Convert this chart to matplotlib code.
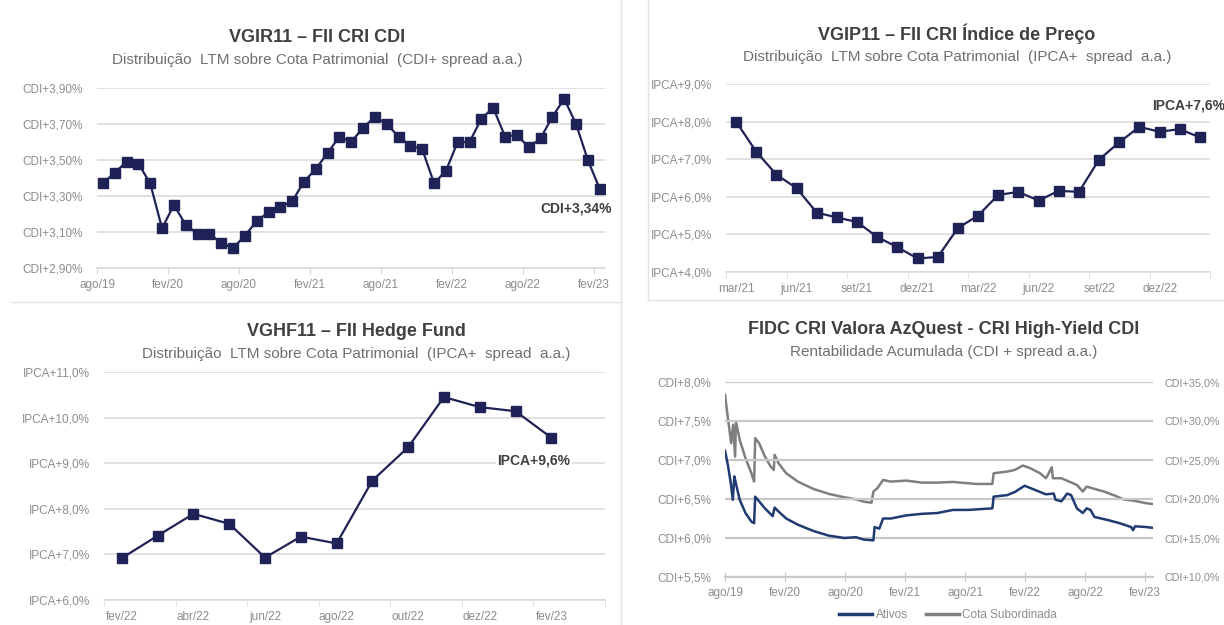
import matplotlib
matplotlib.use("Agg")
import matplotlib.pyplot as plt
from matplotlib.lines import Line2D

plt.rcParams['font.family'] = ['Liberation Sans', 'DejaVu Sans']

# ---- data ----
vgir_labels = ["ago/19", "fev/20", "ago/20", "fev/21", "ago/21", "fev/22", "ago/22", "fev/23"]
vgir_vals = [3.37, 3.43, 3.49, 3.48, 3.37, 3.12, 3.25, 3.14, 3.09, 3.09, 3.04, 3.01,
             3.08, 3.16, 3.21, 3.24, 3.27, 3.38, 3.45, 3.54, 3.63, 3.60, 3.68, 3.74,
             3.70, 3.63, 3.58, 3.56, 3.37, 3.44, 3.60, 3.60, 3.73, 3.79, 3.63, 3.64,
             3.57, 3.62, 3.74, 3.84, 3.70, 3.50, 3.34]
vgir_yticks = [2.9, 3.1, 3.3, 3.5, 3.7, 3.9]
vgir_ylabels = ["CDI+2,90%", "CDI+3,10%", "CDI+3,30%", "CDI+3,50%", "CDI+3,70%", "CDI+3,90%"]

vgip_labels = ["mar/21", "jun/21", "set/21", "dez/21", "mar/22", "jun/22", "set/22", "dez/22"]
vgip_vals = [8.00, 7.20, 6.59, 6.23, 5.58, 5.45, 5.33, 4.93, 4.66, 4.36, 4.40, 5.17,
             5.50, 6.05, 6.13, 5.90, 6.16, 6.13, 6.99, 7.45, 7.86, 7.73, 7.80, 7.58]
vgip_yticks = [4, 5, 6, 7, 8, 9]
vgip_ylabels = ["IPCA+4,0%", "IPCA+5,0%", "IPCA+6,0%", "IPCA+7,0%", "IPCA+8,0%", "IPCA+9,0%"]

vghf_labels = ["fev/22", "abr/22", "jun/22", "ago/22", "out/22", "dez/22", "fev/23"]
vghf_vals = [6.92, 7.41, 7.89, 7.67, 6.93, 7.39, 7.24, 8.62, 9.35, 10.45, 10.23, 10.14, 9.56]
vghf_yticks = [6, 7, 8, 9, 10, 11]
vghf_ylabels = ["IPCA+6,0%", "IPCA+7,0%", "IPCA+8,0%", "IPCA+9,0%", "IPCA+10,0%", "IPCA+11,0%"]

# FIDC: months since ago/19
fidc_labels = ["ago/19", "fev/20", "ago/20", "fev/21", "ago/21", "fev/22", "ago/22", "fev/23"]
ativos_m = [0.00, 0.31, 0.58, 0.78, 0.93, 1.09, 1.47, 2.05, 2.64, 2.91, 3.02, 3.41, 3.99,
            4.77, 4.96, 5.35, 6.12, 7.29, 8.84, 10.39, 11.94, 13.10, 13.88, 14.84, 14.96,
            15.43, 15.81, 16.59, 18.14, 19.69, 21.24, 22.79, 24.34, 26.74, 26.86, 28.22,
            28.99, 29.96, 30.93, 32.09, 32.87, 33.06, 33.64, 34.22, 34.61, 35.19, 35.78,
            36.16, 36.55, 36.94, 38.29, 39.46, 40.62, 40.81, 41.01, 42.17, 42.75]
ativos_v = [7.12, 6.92, 6.70, 6.49, 6.79, 6.70, 6.49, 6.32, 6.21, 6.19, 6.53, 6.47, 6.38,
            6.28, 6.39, 6.34, 6.25, 6.17, 6.09, 6.03, 6.00, 6.01, 5.98, 5.97, 6.14,
            6.12, 6.25, 6.25, 6.29, 6.31, 6.32, 6.36, 6.36, 6.38, 6.53, 6.55,
            6.59, 6.67, 6.62, 6.56, 6.57, 6.49, 6.47, 6.57, 6.55, 6.38, 6.32,
            6.38, 6.36, 6.27, 6.23, 6.19, 6.14, 6.10, 6.15, 6.14, 6.13]
cota_m = [0.00, 0.31, 0.62, 0.81, 1.01, 1.09, 1.47, 2.05, 2.64, 2.91, 3.02, 3.41, 3.99,
          4.57, 4.88, 4.96, 5.35, 6.12, 7.29, 8.84, 10.39, 11.94, 13.10, 13.88, 14.65,
          14.84, 15.23, 15.81, 16.59, 18.14, 19.69, 21.24, 22.79, 25.12, 26.74, 26.86,
          28.22, 28.99, 29.77, 30.54, 31.51, 32.09, 32.29, 32.67, 32.79, 33.64, 34.42,
          35.19, 35.78, 36.16, 36.74, 37.91, 39.07, 39.84, 41.01, 42.17, 42.75]
cota_v = [33.37, 30.16, 27.16, 29.52, 25.44, 29.94, 27.59, 25.23, 23.30, 22.23, 27.80, 27.16, 25.44,
          24.16, 23.73, 25.66, 24.59, 23.30, 22.23, 21.29, 20.65, 20.22, 19.96, 19.66, 19.53,
          20.95, 21.37, 22.44, 22.23, 22.36, 22.10, 22.10, 22.19, 21.93, 21.93, 23.30,
          23.52, 23.73, 24.29, 23.94, 23.30, 22.66, 23.09, 24.07, 22.66, 22.66, 22.23,
          21.80, 20.95, 21.59, 21.37, 20.95, 20.39, 19.96, 19.75, 19.45, 19.36]
fidc_yticks = [5.5, 6.0, 6.5, 7.0, 7.5, 8.0]
fidc_ylabels = ["CDI+5,5%", "CDI+6,0%", "CDI+6,5%", "CDI+7,0%", "CDI+7,5%", "CDI+8,0%"]
fidc_rticks = [10, 15, 20, 25, 30, 35]
fidc_rlabels = ["CDI+10,0%", "CDI+15,0%", "CDI+20,0%", "CDI+25,0%", "CDI+30,0%", "CDI+35,0%"]

navy = "#1f2256"
navy2 = "#203a72"
gray_line = "#7f7f7f"
grid_c = "#d9d9d9"
tick_c = "#8c8c8c"
title_c = "#404040"
sub_c = "#6f6f6f"

W, H = 1224, 625
fig = plt.figure(figsize=(W / 100, H / 100), dpi=100)


def rect(x0, y0, x1, y1):
    return [x0 / W, 1 - y1 / H, (x1 - x0) / W, (y1 - y0) / H]


def ftext(x, y, s, **kw):
    fig.text(x / W, 1 - y / H, s, ha="center", va="center", **kw)


def base(ax, ylim, yticks, ylabels):
    ax.set_ylim(*ylim)
    ax.set_yticks(yticks)
    ax.set_yticklabels(ylabels, color=tick_c, fontsize=8.5)
    ax.grid(axis="y", color=grid_c, lw=1.1)
    ax.set_axisbelow(True)
    for s in ["top", "right", "left"]:
        ax.spines[s].set_visible(False)
    ax.spines["bottom"].set_color(grid_c)
    ax.spines["bottom"].set_linewidth(1.1)
    ax.tick_params(axis="y", length=0, pad=10)
    ax.tick_params(axis="x", which="both", colors=grid_c, labelcolor=tick_c, labelsize=8.5)


# panel borders
for x0, y0, x1, y1 in [(621, 0, 621, 625), (12, 302, 621, 302), (648, 0, 648, 300), (648, 300, 1224, 300)]:
    fig.add_artist(Line2D([x0 / W, x1 / W], [1 - y0 / H, 1 - y1 / H], color="#e3e3e3", lw=1))

# ---- VGIR11 ----
ax1 = fig.add_axes(rect(97, 88, 605, 268))
base(ax1, (2.9, 3.9), vgir_yticks, vgir_ylabels)
ax1.plot(range(len(vgir_vals)), vgir_vals, color=navy, lw=1.6, marker="s", ms=6.8)
ax1.set_xlim(-0.5, 42.45)
ax1.set_xticks([i * 6 - 0.5 for i in range(len(vgir_labels))])
ax1.set_xticklabels(vgir_labels)
ax1.tick_params(axis="x", length=4, pad=4)
ax1.text(43.0, 3.23, "CDI+3,34%", ha="right", va="center", fontsize=10, fontweight="bold", color=title_c)
ftext(317, 37, "VGIR11 – FII CRI CDI", fontsize=13, fontweight="bold", color=title_c)
ftext(317, 60, "Distribuição  LTM sobre Cota Patrimonial  (CDI+ spread a.a.)", fontsize=11, color=sub_c)

# ---- VGIP11 ----
ax2 = fig.add_axes(rect(726, 84, 1210, 272))
base(ax2, (4, 9), vgip_yticks, vgip_ylabels)
ax2.plot(range(len(vgip_vals)), vgip_vals, color=navy, lw=1.6, marker="s", ms=6.8)
ax2.set_xlim(-0.5, 23.5)
ax2.set_xticks([i * 3 for i in range(len(vgip_labels))])
ax2.set_xticklabels(vgip_labels)
ax2.set_xticks([i * 3 - 0.5 for i in range(len(vgip_labels) + 1)], minor=True)
ax2.tick_params(axis="x", which="major", length=0, pad=8)
ax2.tick_params(axis="x", which="minor", length=4)
ax2.text(24.24, 8.42, "IPCA+7,6%", ha="right", va="center", fontsize=10, fontweight="bold", color=title_c)
ftext(957, 34, "VGIP11 – FII CRI Índice de Preço", fontsize=13, fontweight="bold", color=title_c)
ftext(957, 57, "Distribuição  LTM sobre Cota Patrimonial  (IPCA+  spread  a.a.)", fontsize=11, color=sub_c)

# ---- VGHF11 ----
ax3 = fig.add_axes(rect(104, 372, 605, 600))
base(ax3, (6, 11), vghf_yticks, vghf_ylabels)
ax3.plot(range(len(vghf_vals)), vghf_vals, color=navy, lw=1.6, marker="s", ms=6.8)
ax3.set_xlim(-0.5, 12.5)
ax3.set_xticks([i * 2 for i in range(len(vghf_labels))])
ax3.set_xticklabels(vghf_labels)
ax3.set_xticks([i * 2 - 0.5 for i in range(len(vghf_labels) + 1)], minor=True)
ax3.tick_params(axis="x", which="major", length=0, pad=8)
ax3.tick_params(axis="x", which="minor", length=4)
ax3.text(12.53, 9.06, "IPCA+9,6%", ha="right", va="center", fontsize=10, fontweight="bold", color=title_c,
         bbox=dict(facecolor="white", edgecolor="none", pad=1))
ftext(356, 331, "VGHF11 – FII Hedge Fund", fontsize=13, fontweight="bold", color=title_c)
ftext(356, 354, "Distribuição  LTM sobre Cota Patrimonial  (IPCA+  spread  a.a.)", fontsize=11, color=sub_c)

# ---- FIDC ----
ax4 = fig.add_axes(rect(725, 382, 1153, 577))
base(ax4, (5.5, 8.0), fidc_yticks, fidc_ylabels)
ax4.grid(axis="y", color="#c8c8c8", lw=1.6)
ax4.spines["bottom"].set_color("#c8c8c8")
ax4.spines["bottom"].set_linewidth(1.6)
ax4.set_xlim(0, 42.8)
ax4.set_xticks([i * 6 for i in range(len(fidc_labels))])
ax4.set_xticklabels(fidc_labels)
ax4.tick_params(axis="x", direction="inout", length=7, colors="#c8c8c8", labelcolor=tick_c, pad=4)
ax4r = ax4.twinx()
ax4r.set_ylim(10, 35)
ax4r.set_yticks(fidc_rticks)
ax4r.set_yticklabels(fidc_rlabels, color=tick_c, fontsize=7.8)
ax4r.tick_params(axis="y", length=0, pad=8)
for s in ["top", "right", "left", "bottom"]:
    ax4r.spines[s].set_visible(False)
ax4r.plot(cota_m, cota_v, color=gray_line, lw=1.8, label="Cota Subordinada")
ax4.plot(ativos_m, ativos_v, color=navy2, lw=1.8, label="Ativos")
ax4.set_zorder(ax4r.get_zorder() + 1)
ax4.patch.set_visible(False)
handles = [Line2D([], [], color=navy2, lw=2.5), Line2D([], [], color=gray_line, lw=2.5)]
fig.legend(handles, ["Ativos", "Cota Subordinada"], loc="center", bbox_to_anchor=(948 / W, 1 - 615 / H),
           ncol=2, frameon=False, fontsize=8.5, labelcolor=tick_c, handlelength=2.8, columnspacing=1.5,
           handletextpad=0.3)
ftext(944, 330, "FIDC CRI Valora AzQuest - CRI High-Yield CDI", fontsize=13, fontweight="bold", color=title_c)
ftext(944, 352, "Rentabilidade Acumulada (CDI + spread a.a.)", fontsize=11, color=sub_c)

fig.savefig("out.png", dpi=100)
